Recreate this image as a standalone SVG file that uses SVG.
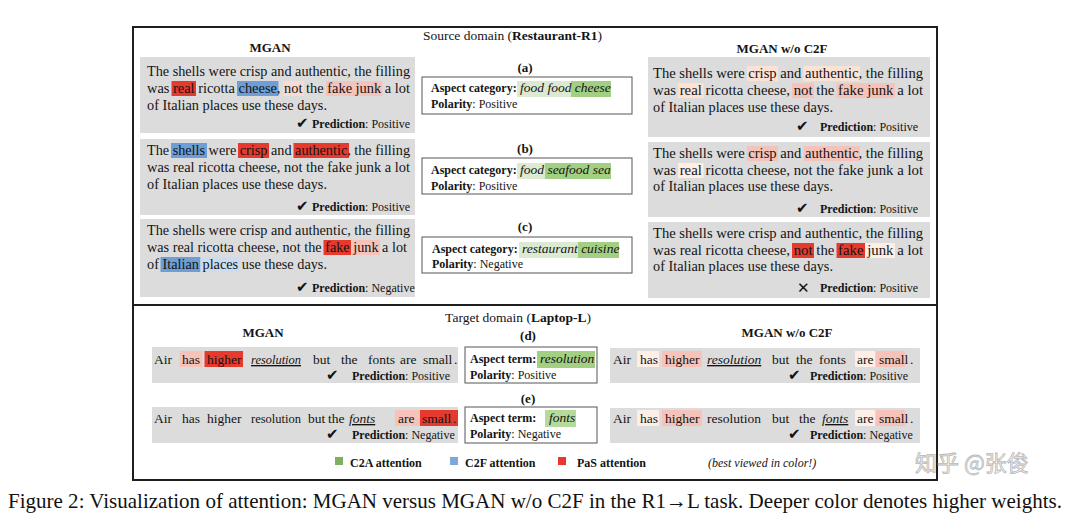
<svg xmlns="http://www.w3.org/2000/svg" width="1080" height="518" viewBox="0 0 1080 518">
<style>
.t{font-family:"Liberation Serif","Times New Roman",serif;font-size:15px;fill:#141414}
.s{font-family:"Liberation Serif","Times New Roman",serif;font-size:12px;fill:#141414}
.h{font-family:"Liberation Serif","Times New Roman",serif;font-size:13px;font-weight:bold;fill:#141414}
.w{font-family:"Liberation Serif","Times New Roman",serif;font-size:13.5px;fill:#141414}
.it{font-style:italic}
.u{text-decoration:underline}
.bd{font-weight:bold}
.ck{font-family:"DejaVu Sans",sans-serif;font-size:15px;fill:#111}
.panel{fill:#dcdcdc}
.box{fill:#fff;stroke:#555;stroke-width:1}
.frame{fill:none;stroke:#1e1e1e;stroke-width:2}
.R{fill:#e63a2e}.P{fill:#f5c3b9}.LP{fill:#fadad2}.PE{fill:#fbe2d5}.VL{fill:#fdeee6}
.B{fill:#6d9fd6}.LB{fill:#cadcf0}
.G1{fill:#dbead0}.G2{fill:#a3cf82}.G3{fill:#b6d99c}
</style>
<rect width="1080" height="518" fill="#ffffff"/>

<g id="frame">
<rect class="frame" x="133" y="27" width="804" height="453"/>
<line x1="133" y1="305" x2="937" y2="305" stroke="#1e1e1e" stroke-width="2"/>
</g>
<g id="connectors"/>

<g id="headings">
<text class="w" x="512.5" y="40" text-anchor="middle">Source domain (<tspan class="bd">Restaurant-R1</tspan>)</text>
<text class="h" x="270" y="52" text-anchor="middle">MGAN</text>
<text class="h" x="782" y="53" text-anchor="middle">MGAN w/o C2F</text>
<text class="w" x="518" y="322" text-anchor="middle">Target domain (<tspan class="bd">Laptop-L</tspan>)</text>
<text class="h" x="263" y="337" text-anchor="middle">MGAN</text>
<text class="h" x="787" y="337" text-anchor="middle">MGAN w/o C2F</text>
</g>

<g id="mgan-a">
<rect class="panel" x="140" y="57" width="275" height="76"/>
<rect class="R" x="171.5" y="81" width="24.5" height="15"/>
<rect class="B" x="237" y="81" width="41.5" height="15"/>
<rect class="LP" x="283" y="81" width="21" height="15"/>
<rect class="P" x="326" y="81" width="56.5" height="15"/>
<text class="t" x="147" y="76" textLength="263" lengthAdjust="spacingAndGlyphs">The shells were crisp and authentic, the filling</text>
<text class="t" x="147" y="93" textLength="263" lengthAdjust="spacingAndGlyphs">was real ricotta cheese, not the fake junk a lot</text>
<text class="t" x="147" y="110" textLength="180" lengthAdjust="spacingAndGlyphs">of Italian places use these days.</text>
<text class="ck" x="296" y="128">✔</text>
<text class="s" x="312" y="128"><tspan class="bd">Prediction</tspan>: Positive</text>
</g>

<g id="mgan-b">
<rect class="panel" x="140" y="139" width="275" height="76"/>
<rect class="B" x="171" y="143" width="36" height="15"/>
<rect class="R" x="238" y="143" width="31" height="15"/>
<rect class="R" x="293.5" y="143" width="55.5" height="15"/>
<text class="t" x="147" y="155" textLength="263" lengthAdjust="spacingAndGlyphs">The shells were crisp and authentic, the filling</text>
<text class="t" x="147" y="172" textLength="263" lengthAdjust="spacingAndGlyphs">was real ricotta cheese, not the fake junk a lot</text>
<text class="t" x="147" y="189" textLength="180" lengthAdjust="spacingAndGlyphs">of Italian places use these days.</text>
<text class="ck" x="296" y="211">✔</text>
<text class="s" x="312" y="211"><tspan class="bd">Prediction</tspan>: Positive</text>
</g>

<g id="mgan-c">
<rect class="panel" x="140" y="219" width="275" height="78"/>
<rect class="R" x="323.5" y="240" width="27.5" height="15"/>
<rect class="P" x="351" y="240" width="29" height="15"/>
<rect class="B" x="160.5" y="257" width="40" height="15"/>
<rect class="LB" x="200.5" y="257" width="39" height="15"/>
<text class="t" x="147" y="235" textLength="263" lengthAdjust="spacingAndGlyphs">The shells were crisp and authentic, the filling</text>
<text class="t" x="147" y="252" textLength="260" lengthAdjust="spacingAndGlyphs">was real ricotta cheese, not the fake junk a lot</text>
<text class="t" x="147" y="269" textLength="180" lengthAdjust="spacingAndGlyphs">of Italian places use these days.</text>
<text class="ck" x="296" y="292">✔</text>
<text class="s" x="312" y="292"><tspan class="bd">Prediction</tspan>: Negative</text>
</g>

<g id="aspect-a">
<text class="h" x="525" y="72" text-anchor="middle">(a)</text>
<rect class="box" x="422" y="77" width="210" height="37"/>
<rect class="G1" x="517" y="81" width="54" height="16"/>
<rect class="G2" x="571" y="81" width="40" height="16"/>
<text class="s bd" x="431" y="92">Aspect category:</text>
<text class="w it" x="520" y="92" font-size="13">food food cheese</text>
<text class="s" x="431" y="108"><tspan class="bd">Polarity</tspan>: Positive</text>
</g>

<g id="aspect-b">
<text class="h" x="525" y="153" text-anchor="middle">(b)</text>
<rect class="box" x="422" y="158" width="210" height="36"/>
<rect class="G1" x="517" y="163" width="28" height="16"/>
<rect class="G2" x="545" y="163" width="66" height="16"/>
<text class="s bd" x="431" y="174">Aspect category:</text>
<text class="w it" x="520" y="174" font-size="13">food seafood sea</text>
<text class="s" x="431" y="190"><tspan class="bd">Polarity</tspan>: Positive</text>
</g>

<g id="aspect-c">
<text class="h" x="525" y="231" text-anchor="middle">(c)</text>
<rect class="box" x="422" y="237" width="210" height="36"/>
<rect class="G1" x="519" y="242" width="59" height="16"/>
<rect class="G2" x="578" y="242" width="41" height="16"/>
<text class="s bd" x="432" y="253">Aspect category:</text>
<text class="w it" x="522" y="253" font-size="13">restaurant cuisine</text>
<text class="s" x="432" y="268"><tspan class="bd">Polarity</tspan>: Negative</text>
</g>

<g id="c2f-a">
<rect class="panel" x="648" y="57" width="282" height="80"/>
<rect class="PE" x="747" y="66" width="31" height="15"/>
<rect class="PE" x="803.5" y="66" width="56.5" height="15"/>
<rect class="PE" x="678" y="83" width="25.5" height="15"/>
<rect class="P" x="792" y="83" width="22" height="15"/>
<rect class="P" x="836.5" y="83" width="58.5" height="15"/>
<text class="t" x="653" y="78" textLength="270" lengthAdjust="spacingAndGlyphs">The shells were crisp and authentic, the filling</text>
<text class="t" x="653" y="95" textLength="270" lengthAdjust="spacingAndGlyphs">was real ricotta cheese, not the fake junk a lot</text>
<text class="t" x="653" y="112" textLength="180" lengthAdjust="spacingAndGlyphs">of Italian places use these days.</text>
<text class="ck" x="796" y="131">✔</text>
<text class="s" x="820" y="131"><tspan class="bd">Prediction</tspan>: Positive</text>
</g>

<g id="c2f-b">
<rect class="panel" x="648" y="142" width="282" height="75"/>
<rect class="P" x="747" y="146" width="31" height="15"/>
<rect class="P" x="803.5" y="146" width="56.5" height="15"/>
<rect class="VL" x="678" y="163" width="25.5" height="15"/>
<text class="t" x="653" y="158" textLength="270" lengthAdjust="spacingAndGlyphs">The shells were crisp and authentic, the filling</text>
<text class="t" x="653" y="175" textLength="270" lengthAdjust="spacingAndGlyphs">was real ricotta cheese, not the fake junk a lot</text>
<text class="t" x="653" y="191" textLength="180" lengthAdjust="spacingAndGlyphs">of Italian places use these days.</text>
<text class="ck" x="796" y="213">✔</text>
<text class="s" x="820" y="213"><tspan class="bd">Prediction</tspan>: Positive</text>
</g>

<g id="c2f-c">
<rect class="panel" x="648" y="222" width="282" height="76"/>
<rect class="R" x="792" y="243" width="22" height="15"/>
<rect class="R" x="836.5" y="243" width="28.5" height="15"/>
<rect class="VL" x="865" y="243" width="30" height="15"/>
<text class="t" x="653" y="238" textLength="270" lengthAdjust="spacingAndGlyphs">The shells were crisp and authentic, the filling</text>
<text class="t" x="653" y="255" textLength="270" lengthAdjust="spacingAndGlyphs">was real ricotta cheese, not the fake junk a lot</text>
<text class="t" x="653" y="271" textLength="180" lengthAdjust="spacingAndGlyphs">of Italian places use these days.</text>
<text class="ck" x="797" y="293" font-size="17" font-weight="bold">✕</text>
<text class="s" x="820" y="292"><tspan class="bd">Prediction</tspan>: Positive</text>
</g>

<g id="mgan-d">
<rect class="panel" x="152" y="347" width="306" height="36"/>
<rect class="P" x="179.5" y="351" width="23" height="16"/>
<rect class="R" x="204.5" y="351" width="38.5" height="16"/>
<text class="w" y="364"><tspan x="154">Air</tspan><tspan x="182">has</tspan><tspan x="207">higher</tspan><tspan x="251" class="it u" textLength="50" lengthAdjust="spacingAndGlyphs">resolution</tspan><tspan x="313">but</tspan><tspan x="341">the</tspan><tspan x="368">fonts</tspan><tspan x="400">are</tspan><tspan x="423">small</tspan><tspan x="454">.</tspan></text>
<text class="ck" x="326" y="380">✔</text>
<text class="s" x="352" y="380"><tspan class="bd">Prediction</tspan>: Positive</text>
</g>

<g id="mgan-e">
<rect class="panel" x="152" y="407" width="306" height="36"/>
<rect class="P" x="395" y="410" width="25" height="16"/>
<rect class="R" x="420" y="410" width="38" height="16"/>
<text class="w" y="423"><tspan x="154">Air</tspan><tspan x="182">has</tspan><tspan x="207">higher</tspan><tspan x="251" textLength="50" lengthAdjust="spacingAndGlyphs">resolution</tspan><tspan x="308">but</tspan><tspan x="328">the</tspan><tspan x="349" class="it u">fonts</tspan><tspan x="398">are</tspan><tspan x="422">small</tspan><tspan x="453">.</tspan></text>
<text class="ck" x="326" y="439">✔</text>
<text class="s" x="352" y="439"><tspan class="bd">Prediction</tspan>: Negative</text>
</g>

<g id="aspect-d">
<text class="h" x="528" y="340" text-anchor="middle">(d)</text>
<rect class="box" x="465" y="347" width="132" height="36"/>
<rect class="G2" x="537" y="351" width="58" height="17"/>
<text class="s bd" x="470" y="363">Aspect term:</text>
<text class="w it" x="540" y="363" font-size="13">resolution</text>
<text class="s" x="470" y="379"><tspan class="bd">Polarity</tspan>: Positive</text>
</g>

<g id="aspect-e">
<text class="h" x="528" y="403" text-anchor="middle">(e)</text>
<rect class="box" x="465" y="407" width="132" height="36"/>
<rect class="G3" x="545" y="410" width="31" height="17"/>
<text class="s bd" x="470" y="422">Aspect term:</text>
<text class="w it" x="549" y="422" font-size="13">fonts</text>
<text class="s" x="470" y="438"><tspan class="bd">Polarity</tspan>: Negative</text>
</g>

<g id="c2f-d">
<rect class="panel" x="610" y="348" width="310" height="35"/>
<rect class="VL" x="637" y="351" width="22" height="16"/>
<rect class="P" x="662" y="351" width="40" height="16"/>
<rect class="VL" x="855" y="351" width="20" height="16"/>
<rect class="P" x="876" y="351" width="29" height="16"/>
<text class="w" y="364"><tspan x="613">Air</tspan><tspan x="640">has</tspan><tspan x="665">higher</tspan><tspan x="707" class="it u">resolution</tspan><tspan x="772">but</tspan><tspan x="796">the</tspan><tspan x="819">fonts</tspan><tspan x="857">are</tspan><tspan x="879">small</tspan><tspan x="910">.</tspan></text>
<text class="ck" x="788" y="380">✔</text>
<text class="s" x="810" y="380"><tspan class="bd">Prediction</tspan>: Positive</text>
</g>

<g id="c2f-e">
<rect class="panel" x="610" y="408" width="310" height="35"/>
<rect class="VL" x="637" y="410" width="22" height="16"/>
<rect class="P" x="662" y="410" width="40" height="16"/>
<rect class="VL" x="855" y="410" width="20" height="16"/>
<rect class="P" x="876" y="410" width="29" height="16"/>
<text class="w" y="423"><tspan x="613">Air</tspan><tspan x="640">has</tspan><tspan x="665">higher</tspan><tspan x="707">resolution</tspan><tspan x="772">but</tspan><tspan x="799">the</tspan><tspan x="822" class="it u">fonts</tspan><tspan x="857">are</tspan><tspan x="879">small</tspan><tspan x="910">.</tspan></text>
<text class="ck" x="788" y="439">✔</text>
<text class="s" x="810" y="439"><tspan class="bd">Prediction</tspan>: Negative</text>
</g>

<g id="legend">
<rect x="335" y="457" width="8" height="8" fill="#7fb05e"/>
<text class="s bd" x="350" y="467" font-size="12.5">C2A attention</text>
<rect x="450" y="457" width="8" height="8" fill="#7ea8d8"/>
<text class="s bd" x="465" y="467" font-size="12.5">C2F attention</text>
<rect x="558" y="457" width="8" height="8" fill="#e8382e"/>
<text class="s bd" x="577" y="467" font-size="12.5">PaS attention</text>
<text class="s it" x="708" y="467" font-size="12.5">(best viewed in color!)</text>
</g>

<g id="watermark">
<text x="915" y="471" font-family="'Noto Sans CJK SC',sans-serif" font-size="22" fill="#f6f6f6" stroke="#b8b8b8" stroke-width="0.8">知乎 @张俊</text>
</g>

<g id="caption">
<text x="8" y="508" font-family="'Liberation Serif','Times New Roman',serif" font-size="21" fill="#111" textLength="1054" lengthAdjust="spacingAndGlyphs">Figure 2: Visualization of attention: MGAN versus MGAN w/o C2F in the R1→L task. Deeper color denotes higher weights.</text>
</g>
</svg>
